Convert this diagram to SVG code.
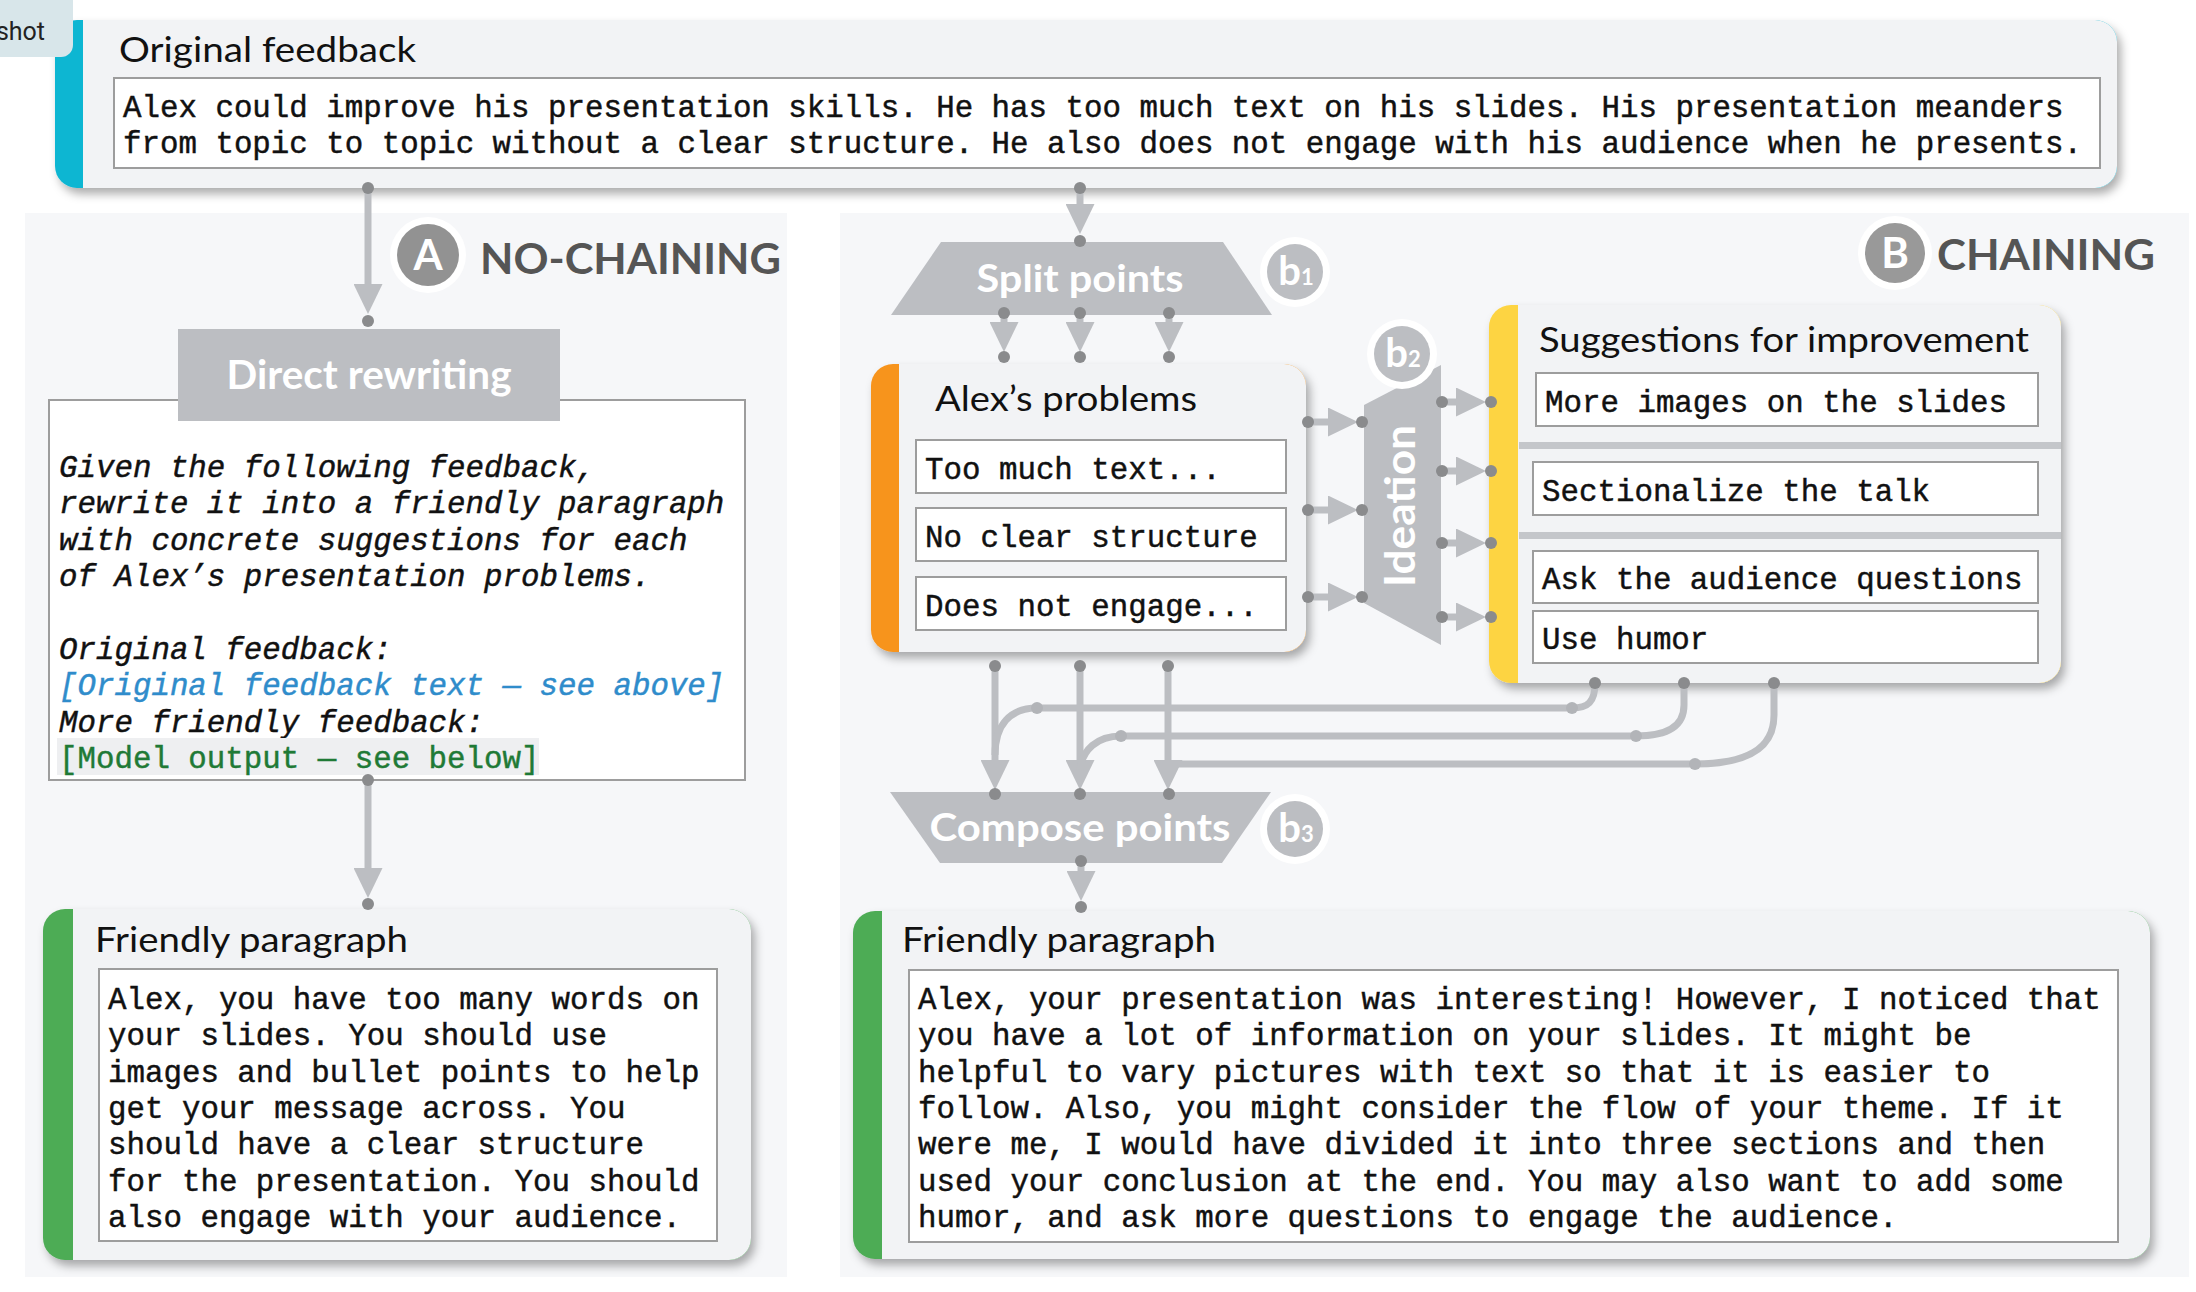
<svg xmlns="http://www.w3.org/2000/svg" width="2196" height="1292" viewBox="0 0 2196 1292">
<defs>
<filter id="shadow" x="-5%" y="-10%" width="115%" height="130%">
<feDropShadow dx="4" dy="6" stdDeviation="5" flood-color="#000" flood-opacity="0.32"/>
</filter>
<marker id="arr" markerUnits="userSpaceOnUse" markerWidth="30" markerHeight="29" refX="0" refY="14.5" orient="auto" viewBox="0 0 30 29">
<path d="M0,0 L30,14.5 L0,29 z" fill="#bcbec2"/>
</marker>
</defs>
<style>
.sect{fill:#f6f7f9}
.card{fill:#f2f3f5}
.box{fill:#ffffff;stroke:#9d9d9d;stroke-width:2}
.grey{fill:#bcbec2}
.mono{font-family:'Liberation Mono','Courier New',monospace;font-size:30.8px;fill:#111;stroke:#111;stroke-width:0.45px}
.it{font-style:italic}
.head{font-family:Lato,'Open Sans','Liberation Sans',sans-serif;font-size:35px;fill:#111}
.lbl{font-family:Lato,'Open Sans','Liberation Sans',sans-serif;font-weight:bold;fill:#ffffff}
.sec{font-family:Lato,'Open Sans','Liberation Sans',sans-serif;font-weight:bold;font-size:42px;fill:#555555}
.ln{fill:none;stroke:#bcbec2;stroke-width:7}
.dot{fill:#8a8b8d}
.ldot{fill:#b2b4b8}
.ring{fill:#ffffff}
</style>
<rect x="0" y="0" width="2196" height="1292" fill="#ffffff"/>
<rect class="sect" x="25" y="213" width="762" height="1064"/>
<rect class="sect" x="840" y="213" width="1349" height="1064"/>

<g id="node-original">
<rect x="55" y="20" width="2062" height="168" rx="22" fill="#10b6d2" filter="url(#shadow)"/>
<rect class="card" x="83" y="20" width="2034" height="168" rx="22"/>
<rect class="card" x="83" y="20" width="40" height="168"/>
<text class="head" x="119" y="62" textLength="297" lengthAdjust="spacingAndGlyphs">Original feedback</text>
<rect class="box" x="114" y="78" width="1986" height="90"/>
<text class="mono" x="123" y="117">Alex could improve his presentation skills. He has too much text on his slides. His presentation meanders</text>
<text class="mono" x="123" y="153">from topic to topic without a clear structure. He also does not engage with his audience when he presents.</text>
</g>

<g id="label-A">
<circle class="ring" cx="428" cy="255" r="38"/>
<circle cx="428" cy="255" r="31" fill="#929292"/>
<text class="lbl" x="428" y="270" text-anchor="middle" font-size="42">A</text>
<text class="sec" x="480" y="274" textLength="301" lengthAdjust="spacingAndGlyphs">NO-CHAINING</text>
</g>

<g id="label-B">
<circle class="ring" cx="1895" cy="253" r="37"/>
<circle cx="1895" cy="253" r="30" fill="#999999"/>
<text class="lbl" x="1895" y="268" text-anchor="middle" font-size="42">B</text>
<text class="sec" x="1937" y="270" textLength="218" lengthAdjust="spacingAndGlyphs">CHAINING</text>
</g>

<g id="node-direct-rewriting">
<rect class="box" x="49" y="400" width="696" height="380"/>
<rect class="grey" x="178" y="329" width="382" height="92"/>
<text class="lbl" x="369" y="389" text-anchor="middle" font-size="40" textLength="285" lengthAdjust="spacingAndGlyphs">Direct rewriting</text>
<text class="mono it" x="59" y="477">Given the following feedback,</text>
<text class="mono it" x="59" y="513">rewrite it into a friendly paragraph</text>
<text class="mono it" x="59" y="550">with concrete suggestions for each</text>
<text class="mono it" x="59" y="586">of Alex’s presentation problems.</text>
<text class="mono it" x="59" y="659">Original feedback:</text>
<text class="mono it" x="59" y="695" style="fill:#2f8ccb;stroke:#2f8ccb">[Original feedback text — see above]</text>
<text class="mono it" x="59" y="732">More friendly feedback:</text>
<rect x="57" y="738" width="482" height="37" fill="#eeeff1"/>
<text class="mono" x="59" y="768" style="fill:#1f7a36;stroke:#1f7a36">[Model output — see below]</text>
</g>

<g id="node-friendly-a">
<rect x="43" y="909" width="708" height="351" rx="22" fill="#4dac55" filter="url(#shadow)"/>
<rect class="card" x="73" y="909" width="678" height="351" rx="22"/>
<rect class="card" x="73" y="909" width="40" height="351"/>
<text class="head" x="95" y="952" textLength="313" lengthAdjust="spacingAndGlyphs">Friendly paragraph</text>
<rect class="box" x="99" y="969" width="618" height="272"/>
<text class="mono" x="108" y="1009">Alex, you have too many words on</text>
<text class="mono" x="108" y="1045">your slides. You should use</text>
<text class="mono" x="108" y="1082">images and bullet points to help</text>
<text class="mono" x="108" y="1118">get your message across. You</text>
<text class="mono" x="108" y="1154">should have a clear structure</text>
<text class="mono" x="108" y="1191">for the presentation. You should</text>
<text class="mono" x="108" y="1227">also engage with your audience.</text>
</g>

<g id="node-split">
<polygon class="grey" points="941,242 1223,242 1272,315 891,315"/>
<text class="lbl" x="1080" y="292" text-anchor="middle" font-size="38" textLength="207" lengthAdjust="spacingAndGlyphs">Split points</text>
</g>

<g id="node-problems">
<rect x="871" y="364" width="435" height="288" rx="22" fill="#f7941e" filter="url(#shadow)"/>
<rect class="card" x="899" y="364" width="407" height="288" rx="22"/>
<rect class="card" x="899" y="364" width="40" height="288"/>
<text class="head" x="935" y="411" font-size="34" textLength="262" lengthAdjust="spacingAndGlyphs">Alex’s problems</text>
<rect class="box" x="916" y="440" width="370" height="53"/>
<rect class="box" x="916" y="508" width="370" height="53"/>
<rect class="box" x="916" y="577" width="370" height="53"/>
<text class="mono" x="925" y="479">Too much text...</text>
<text class="mono" x="925" y="547">No clear structure</text>
<text class="mono" x="925" y="616">Does not engage...</text>
</g>

<g id="node-ideation">
<polygon class="grey" points="1364,405 1441,365 1441,645 1364,603"/>
<text class="lbl" x="1400" y="521" text-anchor="middle" font-size="42" textLength="162" lengthAdjust="spacingAndGlyphs" transform="rotate(-90 1400 506)">Ideation</text>
</g>

<g id="node-suggestions">
<rect x="1489" y="305" width="572" height="378" rx="22" fill="#fdd443" filter="url(#shadow)"/>
<rect class="card" x="1518" y="305" width="543" height="378" rx="22"/>
<rect class="card" x="1518" y="305" width="40" height="378"/>
<text class="head" x="1539" y="352" font-size="34" textLength="490" lengthAdjust="spacingAndGlyphs">Suggestions for improvement</text>
<rect class="box" x="1536" y="373" width="502" height="53"/>
<rect x="1519" y="442" width="542" height="7" fill="#c4c6ca"/>
<rect class="box" x="1533" y="462" width="505" height="53"/>
<rect x="1519" y="532" width="542" height="7" fill="#c4c6ca"/>
<rect class="box" x="1533" y="551" width="505" height="52"/>
<rect class="box" x="1533" y="611" width="505" height="52"/>
<text class="mono" x="1545" y="412">More images on the slides</text>
<text class="mono" x="1542" y="501">Sectionalize the talk</text>
<text class="mono" x="1542" y="589">Ask the audience questions</text>
<text class="mono" x="1542" y="649">Use humor</text>
</g>

<g id="node-compose">
<polygon class="grey" points="890,792 1271,792 1222,863 940,863"/>
<text class="lbl" x="1080" y="841" text-anchor="middle" font-size="38" textLength="301" lengthAdjust="spacingAndGlyphs">Compose points</text>
</g>

<g id="node-friendly-b">
<rect x="853" y="911" width="1297" height="348" rx="22" fill="#4dac55" filter="url(#shadow)"/>
<rect class="card" x="882" y="911" width="1268" height="348" rx="22"/>
<rect class="card" x="882" y="911" width="40" height="348"/>
<text class="head" x="902" y="952" textLength="314" lengthAdjust="spacingAndGlyphs">Friendly paragraph</text>
<rect class="box" x="909" y="970" width="1209" height="272"/>
<text class="mono" x="918" y="1009">Alex, your presentation was interesting! However, I noticed that</text>
<text class="mono" x="918" y="1045">you have a lot of information on your slides. It might be</text>
<text class="mono" x="918" y="1082">helpful to vary pictures with text so that it is easier to</text>
<text class="mono" x="918" y="1118">follow. Also, you might consider the flow of your theme. If it</text>
<text class="mono" x="918" y="1154">were me, I would have divided it into three sections and then</text>
<text class="mono" x="918" y="1191">used your conclusion at the end. You may also want to add some</text>
<text class="mono" x="918" y="1227">humor, and ask more questions to engage the audience.</text>
</g>

<g id="connectors">
<path class="ln" d="M368,188 L368,284" marker-end="url(#arr)"/>
<path class="ln" d="M368,780 L368,868" marker-end="url(#arr)"/>
<path class="ln" d="M1080,188 L1080,204" marker-end="url(#arr)"/>
<path class="ln" d="M1004,315 L1004,322" marker-end="url(#arr)"/>
<path class="ln" d="M1080,315 L1080,322" marker-end="url(#arr)"/>
<path class="ln" d="M1169,315 L1169,322" marker-end="url(#arr)"/>
<path class="ln" d="M1308,422 L1328,422" marker-end="url(#arr)"/>
<path class="ln" d="M1308,510 L1328,510" marker-end="url(#arr)"/>
<path class="ln" d="M1308,597 L1328,597" marker-end="url(#arr)"/>
<path class="ln" d="M1442,402 L1456,402" marker-end="url(#arr)"/>
<path class="ln" d="M1442,471 L1456,471" marker-end="url(#arr)"/>
<path class="ln" d="M1442,543 L1456,543" marker-end="url(#arr)"/>
<path class="ln" d="M1442,617 L1456,617" marker-end="url(#arr)"/>
<path class="ln" d="M995,666 L995,760" marker-end="url(#arr)"/>
<path class="ln" d="M1080,666 L1080,760" marker-end="url(#arr)"/>
<path class="ln" d="M1168,666 L1168,760" marker-end="url(#arr)"/>
<path class="ln" d="M1595,683 C1595,702 1588,708 1572,708 L1037,708 C1010,708 995,725 995,755"/>
<path class="ln" d="M1684,683 L1684,705 C1684,728 1665,736 1636,736 L1121,736 C1097,736 1082,750 1080,770"/>
<path class="ln" d="M1774,683 L1774,715 C1774,750 1745,764 1695,764 L1172,764"/>
<path class="ln" d="M1081,861 L1081,871" marker-end="url(#arr)"/>
<circle class="dot" cx="368" cy="188" r="6"/>
<circle class="dot" cx="368" cy="321" r="6"/>
<circle class="dot" cx="368" cy="780" r="6"/>
<circle class="dot" cx="368" cy="904" r="6"/>
<circle class="dot" cx="1080" cy="188" r="6"/>
<circle class="dot" cx="1080" cy="241" r="6"/>
<circle class="dot" cx="1004" cy="313" r="6"/>
<circle class="dot" cx="1080" cy="313" r="6"/>
<circle class="dot" cx="1169" cy="313" r="6"/>
<circle class="dot" cx="1004" cy="357" r="6"/>
<circle class="dot" cx="1080" cy="357" r="6"/>
<circle class="dot" cx="1169" cy="357" r="6"/>
<circle class="dot" cx="1308" cy="422" r="6"/>
<circle class="dot" cx="1308" cy="510" r="6"/>
<circle class="dot" cx="1308" cy="597" r="6"/>
<circle class="dot" cx="1362" cy="422" r="6"/>
<circle class="dot" cx="1362" cy="510" r="6"/>
<circle class="dot" cx="1362" cy="597" r="6"/>
<circle class="dot" cx="1442" cy="402" r="6"/>
<circle class="dot" cx="1442" cy="471" r="6"/>
<circle class="dot" cx="1442" cy="543" r="6"/>
<circle class="dot" cx="1442" cy="617" r="6"/>
<circle class="dot" cx="1491" cy="402" r="6"/>
<circle class="dot" cx="1491" cy="471" r="6"/>
<circle class="dot" cx="1491" cy="543" r="6"/>
<circle class="dot" cx="1491" cy="617" r="6"/>
<circle class="dot" cx="995" cy="666" r="6"/>
<circle class="dot" cx="1080" cy="666" r="6"/>
<circle class="dot" cx="1168" cy="666" r="6"/>
<circle class="dot" cx="995" cy="794" r="6"/>
<circle class="dot" cx="1080" cy="794" r="6"/>
<circle class="dot" cx="1169" cy="794" r="6"/>
<circle class="dot" cx="1595" cy="683" r="6"/>
<circle class="dot" cx="1684" cy="683" r="6"/>
<circle class="dot" cx="1774" cy="683" r="6"/>
<circle class="ldot" cx="1037" cy="708" r="6"/>
<circle class="ldot" cx="1572" cy="708" r="6"/>
<circle class="ldot" cx="1121" cy="736" r="6"/>
<circle class="ldot" cx="1636" cy="736" r="6"/>
<circle class="ldot" cx="1695" cy="764" r="6"/>
<circle class="dot" cx="1081" cy="861" r="6"/>
<circle class="dot" cx="1081" cy="907" r="6"/>
</g>

<g id="badge-b1">
<circle class="ring" cx="1295" cy="272" r="35"/>
<circle class="grey" cx="1295" cy="272" r="28"/>
<text class="lbl" x="1296" y="285" text-anchor="middle" font-size="40">b<tspan font-size="22">1</tspan></text>
</g>
<g id="badge-b2">
<circle class="ring" cx="1402" cy="354" r="35"/>
<circle class="grey" cx="1402" cy="354" r="28"/>
<text class="lbl" x="1403" y="367" text-anchor="middle" font-size="40">b<tspan font-size="22">2</tspan></text>
</g>
<g id="badge-b3">
<circle class="ring" cx="1295" cy="829" r="35"/>
<circle class="grey" cx="1295" cy="829" r="28"/>
<text class="lbl" x="1296" y="842" text-anchor="middle" font-size="40">b<tspan font-size="22">3</tspan></text>
</g>

<g id="tab-shot">
<rect x="-20" y="-20" width="93" height="77" rx="12" fill="#d8e6ea"/>
<text x="45" y="40" text-anchor="end" font-family="Roboto,'Open Sans',sans-serif" font-size="25" fill="#222">shot</text>
</g>
</svg>
